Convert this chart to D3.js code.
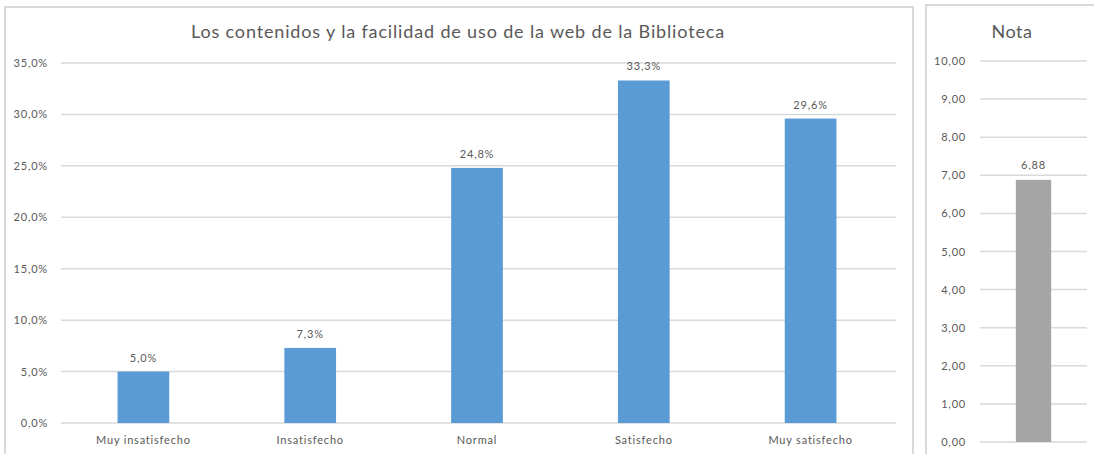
<!DOCTYPE html>
<html>
<head>
<meta charset="utf-8">
<script src="https://cdn.jsdelivr.net/npm/d3@7"></script>
<style>
  body { margin: 0; background: #fff; }
  svg { display: block; font-family: Lato, "Open Sans", sans-serif; }
  .small { letter-spacing: 0.8px; }
</style>
</head>
<body>
<svg id="chart" width="1094" height="454"></svg>
<script>
// data
const categories = ['Muy insatisfecho', 'Insatisfecho', 'Normal', 'Satisfecho', 'Muy satisfecho']
const percents = [5.0, 7.3, 24.8, 33.3, 29.6]
const pctTicks = [0, 5, 10, 15, 20, 25, 30, 35]

const notaLabel = ['Nota']
const notaValue = [6.88]
const notaTicks = [0, 1, 2, 3, 4, 5, 6, 7, 8, 9, 10]

const svg = d3.select('#chart')
const grid = '#d9d9d9'
const txt = '#595959'
const fmtComma = (v, d) => v.toFixed(d).replace('.', ',')

// panel borders
svg.append('rect').attr('x', 5).attr('y', 7).attr('width', 908).attr('height', 460)
  .attr('fill', 'none').attr('stroke', grid).attr('stroke-width', 2)
svg.append('rect').attr('x', 926).attr('y', 5).attr('width', 200).attr('height', 460)
  .attr('fill', 'none').attr('stroke', grid).attr('stroke-width', 2)

// ---- left chart
const x = d3.scaleBand().domain(categories).range([60, 894])
const y = d3.scaleLinear().domain([0, 35]).range([423, 63])

const g = svg.append('g')

g.append('text')
  .attr('x', 458).attr('y', 38)
  .attr('text-anchor', 'middle')
  .attr('font-size', 18).attr('fill', txt)
  .attr('letter-spacing', 0.85)
  .text('Los contenidos y la facilidad de uso de la web de la Biblioteca')

g.selectAll('.grid').data(pctTicks).enter().append('line')
  .attr('x1', 61).attr('x2', 896)
  .attr('y1', d => y(d)).attr('y2', d => y(d))
  .attr('stroke', grid).attr('stroke-width', 1.5)

g.selectAll('.ylab').data(pctTicks).enter().append('text')
  .attr('class', 'small')
  .attr('x', 48).attr('y', d => y(d) + 4)
  .attr('text-anchor', 'end').attr('font-size', 11).attr('fill', txt)
  .text(d => fmtComma(d, 1) + '%')

const bw = x.bandwidth() * 0.31
g.selectAll('.bar').data(percents).enter().append('rect')
  .attr('x', (d, i) => x(categories[i]) + x.bandwidth() / 2 - bw / 2)
  .attr('y', d => y(d))
  .attr('width', bw)
  .attr('height', d => y(0) - y(d))
  .attr('fill', '#5b9bd5')

g.selectAll('.dlab').data(percents).enter().append('text')
  .attr('class', 'small')
  .attr('x', (d, i) => x(categories[i]) + x.bandwidth() / 2)
  .attr('y', d => y(d) - 10)
  .attr('text-anchor', 'middle').attr('font-size', 11).attr('fill', txt)
  .text(d => fmtComma(d, 1) + '%')

g.selectAll('.xlab').data(categories).enter().append('text')
  .attr('class', 'small')
  .attr('x', d => x(d) + x.bandwidth() / 2)
  .attr('y', 444)
  .attr('text-anchor', 'middle').attr('font-size', 11).attr('fill', txt)
  .text(d => d)

// ---- right chart
const x2 = d3.scaleBand().domain(notaLabel).range([980, 1087])
const y2 = d3.scaleLinear().domain([0, 10]).range([442, 61])

const g2 = svg.append('g')

g2.append('text')
  .attr('x', 1012).attr('y', 38)
  .attr('text-anchor', 'middle')
  .attr('font-size', 18).attr('fill', txt)
  .attr('letter-spacing', 0.5)
  .text('Nota')

g2.selectAll('.grid').data(notaTicks).enter().append('line')
  .attr('x1', 980).attr('x2', 1087)
  .attr('y1', d => y2(d)).attr('y2', d => y2(d))
  .attr('stroke', grid).attr('stroke-width', 1.5)

g2.selectAll('.ylab').data(notaTicks).enter().append('text')
  .attr('class', 'small')
  .attr('x', 966).attr('y', d => y2(d) + 4)
  .attr('text-anchor', 'end').attr('font-size', 11).attr('fill', txt)
  .text(d => fmtComma(d, 2))

const bw2 = x2.bandwidth() * 0.33
g2.selectAll('.bar').data(notaValue).enter().append('rect')
  .attr('x', (d, i) => x2(notaLabel[i]) + x2.bandwidth() / 2 - bw2 / 2)
  .attr('y', d => y2(d))
  .attr('width', bw2)
  .attr('height', d => y2(0) - y2(d))
  .attr('fill', '#a5a5a5')

g2.selectAll('.dlab').data(notaValue).enter().append('text')
  .attr('class', 'small')
  .attr('x', (d, i) => x2(notaLabel[i]) + x2.bandwidth() / 2)
  .attr('y', d => y2(d) - 11)
  .attr('text-anchor', 'middle').attr('font-size', 11).attr('fill', txt)
  .text(d => fmtComma(d, 2))
</script>
</body>
</html>
